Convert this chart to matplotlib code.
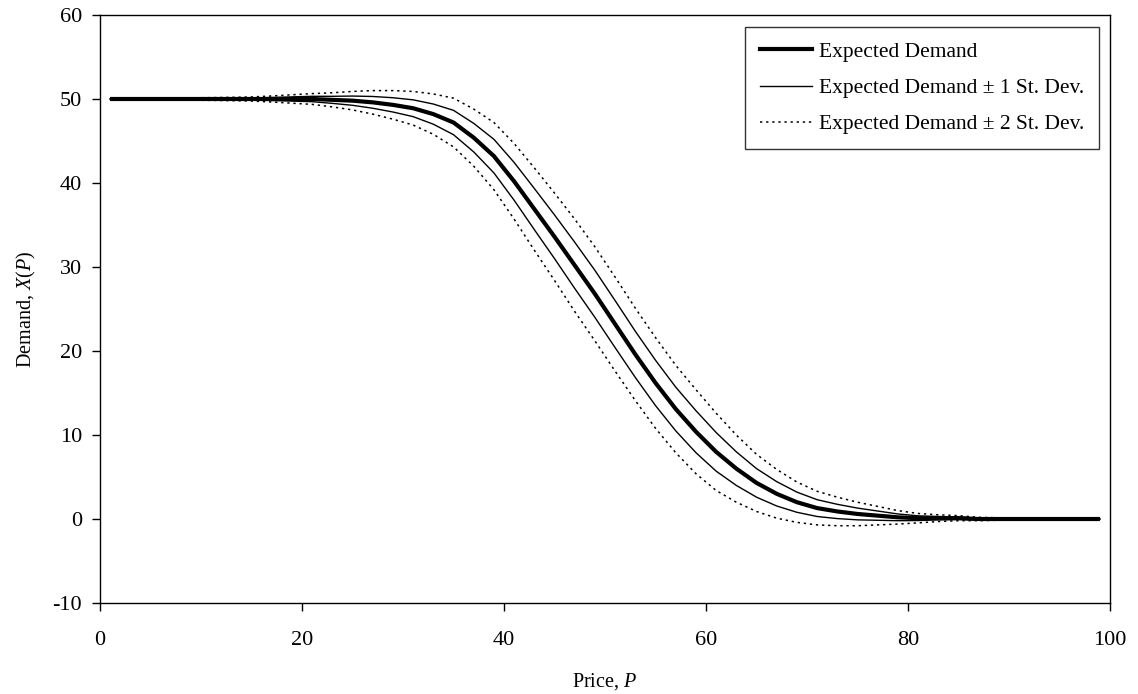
import matplotlib
matplotlib.use("Agg")
import matplotlib.pyplot as plt
import numpy as np

plt.rcParams["font.family"] = ["Liberation Serif", "DejaVu Serif"]
plt.rcParams["mathtext.fontset"] = "custom"
plt.rcParams["mathtext.rm"] = "Liberation Serif"
plt.rcParams["mathtext.it"] = "Liberation Serif:italic"
plt.rcParams["axes.unicode_minus"] = False

# Price grid and simulated demand statistics
price = [1, 3, 5, 7, 9, 11, 13, 15, 17, 19, 21, 23, 25, 27, 29, 31, 33, 35,
         37, 39, 41, 43, 45, 47, 49, 51, 53, 55, 57, 59, 61, 63, 65, 67, 69,
         71, 73, 75, 77, 79, 81, 83, 85, 87, 89, 91, 93, 95, 97, 99]
expected_demand = [50.0, 50.0, 50.0, 50.0, 50.0, 50.0, 50.0, 50.0, 50.0, 50.0,
                   50.0, 49.9, 49.8, 49.6, 49.3, 48.9, 48.2, 47.2, 45.4, 43.2,
                   40.2, 36.9, 33.6, 30.2, 26.8, 23.2, 19.6, 16.2, 13.1, 10.4,
                   8.0, 6.0, 4.3, 3.0, 2.0, 1.3, 0.9, 0.6, 0.4, 0.2,
                   0.1, 0.1, 0.1, 0.0, 0.0, 0.0, 0.0, 0.0, 0.0, 0.0]
std_dev = [0.05, 0.05, 0.05, 0.06, 0.07, 0.08, 0.1, 0.12, 0.18, 0.25,
           0.32, 0.42, 0.55, 0.7, 0.85, 1.0, 1.2, 1.45, 1.7, 2.0,
           2.25, 2.45, 2.6, 2.75, 2.8, 2.8, 2.75, 2.7, 2.6, 2.5,
           2.3, 2.0, 1.7, 1.45, 1.2, 1.0, 0.85, 0.7, 0.55, 0.4,
           0.28, 0.2, 0.15, 0.1, 0.07, 0.05, 0.04, 0.03, 0.02, 0.02]

x_ticks = [0, 20, 40, 60, 80, 100]
y_ticks = [-10, 0, 10, 20, 30, 40, 50, 60]

p = np.array(price)
mu = np.array(expected_demand)
sd = np.array(std_dev)

fig = plt.figure(figsize=(11.38, 6.94), dpi=100)
ax = fig.add_axes([0.0879, 0.1311, 0.8875, 0.8473])

dot_style = (0, (1.5, 2.5))
ax.plot(p, mu + 2 * sd, color="black", lw=1.1, linestyle=dot_style)
ax.plot(p, mu - 2 * sd, color="black", lw=1.1, linestyle=dot_style)
ax.plot(p, mu + sd, color="black", lw=1.0)
ax.plot(p, mu - sd, color="black", lw=1.0)
ax.plot(p, mu, color="black", lw=3.0, solid_capstyle="butt")

# Legend proxies
h_mean, = ax.plot([], [], color="black", lw=3.0)
h_sd1, = ax.plot([], [], color="black", lw=1.0)
h_sd2, = ax.plot([], [], color="black", lw=1.1, linestyle=dot_style)

ax.set_xlim(0, 100)
ax.set_ylim(-10, 60)
ax.set_xticks(x_ticks)
ax.set_yticks(y_ticks)
ax.tick_params(direction="out", length=6, width=1.0, labelsize=16)
ax.tick_params(axis="x", pad=14)
ax.tick_params(axis="y", pad=7)
for s in ax.spines.values():
    s.set_linewidth(1.0)

ax.set_xlabel("Price, $P$", fontsize=14.5, labelpad=15)
ax.set_ylabel("Demand, $X$($P$)", fontsize=14.5, labelpad=10)

leg = ax.legend([h_mean, h_sd1, h_sd2],
                ["Expected Demand",
                 "Expected Demand \u00b1 1 St. Dev.",
                 "Expected Demand \u00b1 2 St. Dev."],
                loc="upper right", bbox_to_anchor=(0.989, 0.980),
                borderaxespad=0, fontsize=15.5, fancybox=False, frameon=True,
                edgecolor="black", handlelength=2.4, handletextpad=0.3,
                labelspacing=0.75, borderpad=0.7)
leg.get_frame().set_linewidth(1.0)

fig.savefig("out.png", dpi=100)
